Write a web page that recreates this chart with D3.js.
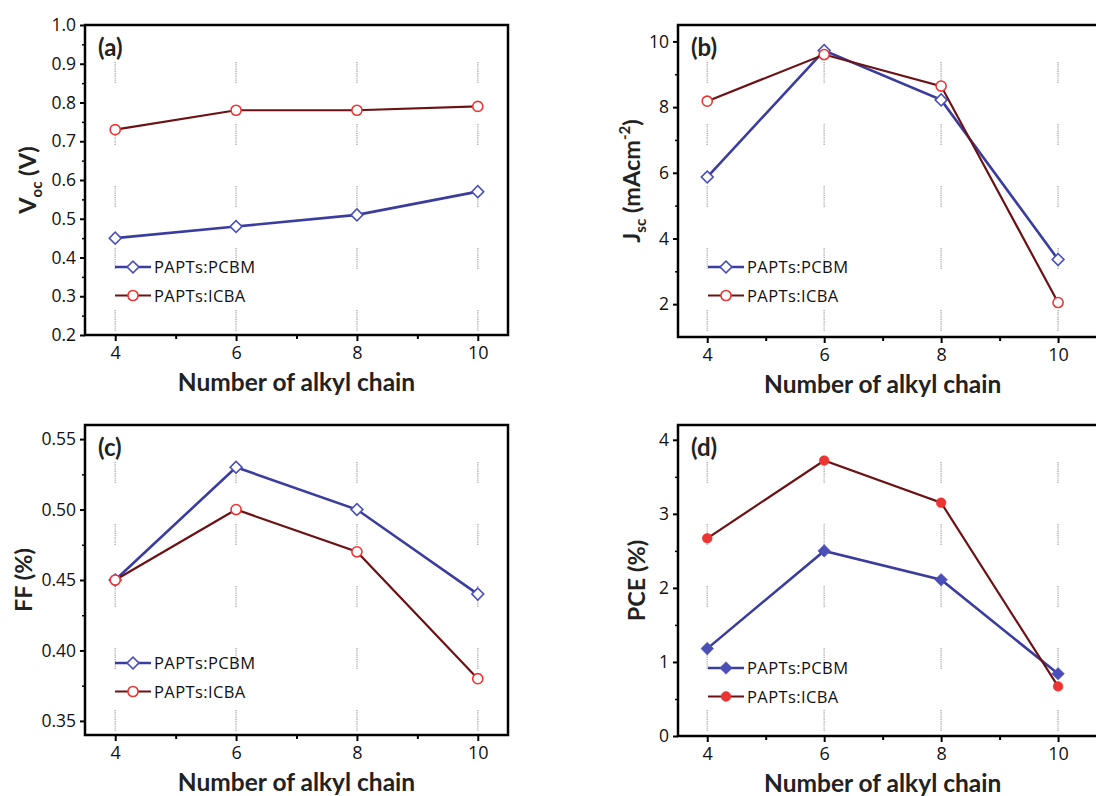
<!DOCTYPE html>
<html>
<head>
<meta charset="utf-8">
<script src="https://cdn.jsdelivr.net/npm/d3@7"></script>
<style>
  body { margin: 0; background: #fff; }
  svg { display: block; }
</style>
</head>
<body>
<svg width="1096" height="796"></svg>
<script>
// data
var chainLengths = [4, 6, 8, 10];
var xTickLabels = ['4', '6', '8', '10'];

var vocPCBM = [0.45, 0.48, 0.51, 0.57];
var vocICBA = [0.73, 0.78, 0.78, 0.79];

var jscPCBM = [5.87, 9.72, 8.22, 3.36];
var jscICBA = [8.18, 9.60, 8.64, 2.05];

var ffPCBM = [0.45, 0.53, 0.50, 0.44];
var ffICBA = [0.45, 0.50, 0.47, 0.38];

var pcePCBM = [1.18, 2.50, 2.11, 0.84];
var pceICBA = [2.67, 3.72, 3.15, 0.67];

var seriesNames = ['PAPTs:PCBM', 'PAPTs:ICBA'];

var svg = d3.select('svg');

var blueLine = '#3a3d9e';
var blueMark = '#4a4fb8';
var redLine = '#6d1214';
var redMark = '#ea3532';

var drawPanel = function(p) {
  var g = svg.append('g');
  var x = d3.scaleLinear().domain(p.xDomain).range([p.left, p.right]);
  var y = d3.scaleLinear().domain(p.yDomain).range([p.bottom, p.top]);

  // dotted vertical guides, broken into short pieces
  chainLengths.forEach(function(c) {
    d3.range(p.top + 37, p.bottom, 62).forEach(function(s) {
      g.append('line')
        .attr('x1', x(c)).attr('x2', x(c))
        .attr('y1', s).attr('y2', Math.min(s + 22, p.bottom - 2))
        .attr('stroke', '#b8b8b8')
        .attr('stroke-width', 1.6)
        .attr('stroke-dasharray', '1.2,1');
    });
  });

  // y axis
  var yAxis = d3.axisLeft(y).tickValues(p.yTicks).tickFormat(p.yFormat).tickSize(5).tickPadding(4);
  var ya = g.append('g').attr('transform', 'translate(' + p.left + ',0)').call(yAxis);
  ya.select('.domain').remove();
  ya.selectAll('line').attr('stroke', '#000').attr('stroke-width', 2);
  ya.selectAll('text').attr('font-family', '"Open Sans", sans-serif').attr('font-size', 17.5).attr('fill', '#111');
  var ym = d3.axisLeft(y).tickValues(p.yMinor).tickFormat('').tickSize(3);
  var yma = g.append('g').attr('transform', 'translate(' + p.left + ',0)').call(ym);
  yma.select('.domain').remove();
  yma.selectAll('line').attr('stroke', '#000').attr('stroke-width', 1.5);

  // x axis
  var xAxis = d3.axisBottom(x).tickValues(chainLengths)
    .tickFormat(function(d, i) { return xTickLabels[i]; }).tickSize(6).tickPadding(5);
  var xa = g.append('g').attr('transform', 'translate(0,' + p.bottom + ')').call(xAxis);
  xa.select('.domain').remove();
  xa.selectAll('line').attr('stroke', '#000').attr('stroke-width', 2);
  xa.selectAll('text').attr('font-family', '"Open Sans", sans-serif').attr('font-size', 18).attr('fill', '#111');
  var xm = d3.axisBottom(x).tickValues([5, 7, 9]).tickFormat('').tickSize(4);
  var xma = g.append('g').attr('transform', 'translate(0,' + p.bottom + ')').call(xm);
  xma.select('.domain').remove();
  xma.selectAll('line').attr('stroke', '#000').attr('stroke-width', 2);

  // frame
  g.append('rect')
    .attr('x', p.left).attr('y', p.top)
    .attr('width', p.right - p.left).attr('height', p.bottom - p.top)
    .attr('fill', 'none').attr('stroke', '#000').attr('stroke-width', 2.5);

  var line = d3.line()
    .x(function(d, i) { return x(chainLengths[i]); })
    .y(function(d) { return y(d); });

  var series = [
    { vals: p.pcbm, color: blueLine, width: 2.6, mark: 'diamond', mcolor: blueMark },
    { vals: p.icba, color: redLine, width: 2.2, mark: 'circle', mcolor: redMark }
  ];

  var symSquare = d3.symbol().type(d3.symbolSquare).size(p.filled ? 80 : 70);
  var symCircle = d3.symbol().type(d3.symbolCircle).size(p.filled ? 75 : 80);

  var drawMarker = function(sel, s, cx, cy) {
    var isD = s.mark === 'diamond';
    sel.append('path')
      .attr('d', isD ? symSquare() : symCircle())
      .attr('transform', 'translate(' + cx + ',' + cy + ')' + (isD ? ' rotate(45)' : ''))
      .attr('fill', p.filled ? s.mcolor : '#fff')
      .attr('stroke', s.mcolor)
      .attr('stroke-width', p.filled ? 0.5 : 1.6);
  };

  series.forEach(function(s) {
    g.append('path')
      .attr('d', line(s.vals))
      .attr('fill', 'none')
      .attr('stroke', s.color)
      .attr('stroke-width', s.width);
    s.vals.forEach(function(v, i) {
      drawMarker(g, s, x(chainLengths[i]), y(v));
    });
  });

  // legend
  series.forEach(function(s, i) {
    var ly = p.legY + i * 28.5;
    g.append('line')
      .attr('x1', p.legX).attr('x2', p.legX + 36)
      .attr('y1', ly).attr('y2', ly)
      .attr('stroke', s.color).attr('stroke-width', s.width);
    drawMarker(g, s, p.legX + 18, ly);
    g.append('text')
      .attr('x', p.legX + 39).attr('y', ly + 6)
      .attr('font-family', '"Open Sans", sans-serif')
      .attr('font-size', 16.5)
      .attr('letter-spacing', 0.4)
      .attr('fill', '#111')
      .text(seriesNames[i]);
  });

  // panel tag
  g.append('text')
    .attr('x', p.left + 13).attr('y', p.top + 31)
    .attr('font-family', 'Lato, sans-serif')
    .attr('font-weight', 'bold')
    .attr('font-size', 24)
    .attr('fill', '#222')
    .text(p.tag);

  // x title
  g.append('text')
    .attr('x', x(7)).attr('y', p.bottom + 56)
    .attr('text-anchor', 'middle')
    .attr('font-family', 'Lato, sans-serif')
    .attr('font-weight', 'bold')
    .attr('font-size', 24.5)
    .attr('fill', '#222')
    .text('Number of alkyl chain');

  // y title
  var yt = g.append('text')
    .attr('transform', 'translate(' + p.yTitleX + ',' + ((p.top + p.bottom) / 2) + ') rotate(-90)')
    .attr('text-anchor', 'middle')
    .attr('font-family', 'Lato, sans-serif')
    .attr('font-weight', 'bold')
    .attr('font-size', 23.5)
    .attr('fill', '#222');
  p.yTitle(yt);
};

var fmt1 = d3.format('.1f');
var fmt2 = d3.format('.2f');
var fmt0 = d3.format('d');

drawPanel({
  tag: '(a)', left: 85, right: 508, top: 25, bottom: 335,
  xDomain: [3.5, 10.5], yDomain: [0.2, 1.0],
  yTicks: [0.2, 0.3, 0.4, 0.5, 0.6, 0.7, 0.8, 0.9, 1.0],
  yMinor: [0.25, 0.35, 0.45, 0.55, 0.65, 0.75, 0.85, 0.95],
  yFormat: fmt1, pcbm: vocPCBM, icba: vocICBA, filled: false,
  legX: 115, legY: 267, yTitleX: 36,
  yTitle: function(t) {
    t.append('tspan').text('V');
    t.append('tspan').attr('font-size', 15).attr('dy', 6).text('oc');
    t.append('tspan').attr('dy', -6).text(' (V)');
  }
});

drawPanel({
  tag: '(b)', left: 678, right: 1099, top: 25, bottom: 337,
  xDomain: [3.5, 10.7], yDomain: [1, 10.5],
  yTicks: [2, 4, 6, 8, 10],
  yMinor: [3, 5, 7, 9],
  yFormat: fmt0, pcbm: jscPCBM, icba: jscICBA, filled: false,
  legX: 708, legY: 267, yTitleX: 640,
  yTitle: function(t) {
    t.append('tspan').text('J');
    t.append('tspan').attr('font-size', 15).attr('dy', 6).text('sc');
    t.append('tspan').attr('dy', -6).text(' (mAcm');
    t.append('tspan').attr('font-size', 15).attr('dy', -10).text('-2');
    t.append('tspan').attr('dy', 10).text(')');
  }
});

drawPanel({
  tag: '(c)', left: 85, right: 508, top: 425, bottom: 735,
  xDomain: [3.5, 10.5], yDomain: [0.34, 0.56],
  yTicks: [0.35, 0.40, 0.45, 0.50, 0.55],
  yMinor: [0.375, 0.425, 0.475, 0.525],
  yFormat: fmt2, pcbm: ffPCBM, icba: ffICBA, filled: false,
  legX: 115, legY: 663, yTitleX: 32,
  yTitle: function(t) { t.text('FF (%)'); }
});

drawPanel({
  tag: '(d)', left: 678, right: 1099, top: 425, bottom: 736,
  xDomain: [3.5, 10.7], yDomain: [0, 4.2],
  yTicks: [0, 1, 2, 3, 4],
  yMinor: [0.5, 1.5, 2.5, 3.5],
  yFormat: fmt0, pcbm: pcePCBM, icba: pceICBA, filled: true,
  legX: 708, legY: 668, yTitleX: 645,
  yTitle: function(t) { t.text('PCE (%)'); }
});
</script>
</body>
</html>
